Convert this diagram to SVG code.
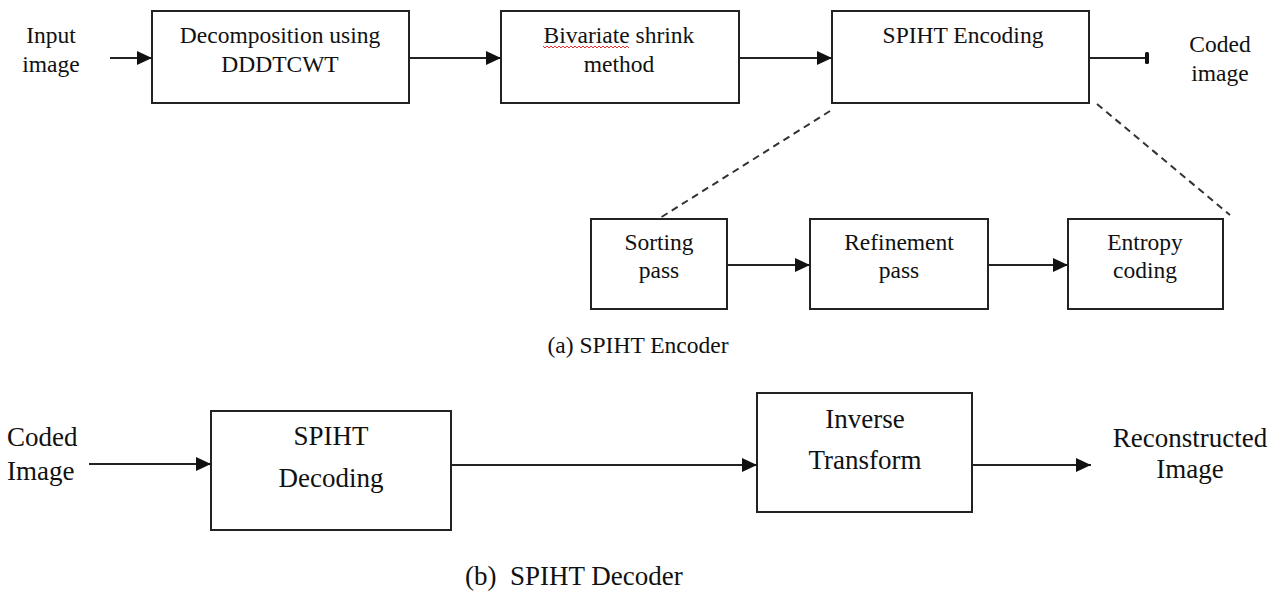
<svg xmlns="http://www.w3.org/2000/svg" width="1271" height="591" viewBox="0 0 1271 591">
  <style>
    .box { fill: #ffffff; stroke: #222222; stroke-width: 2; }
    .t { font-family: "Liberation Serif", "Times New Roman", serif; fill: #111111; text-anchor: middle; }
    .s { font-size: 23.5px; }
    .l { font-size: 27px; }
    .wire { fill: none; stroke: #222222; stroke-width: 2; }
    .dash { fill: none; stroke: #333333; stroke-width: 2; stroke-dasharray: 7 5; }
    .spell { fill: none; stroke: #e03030; stroke-width: 1; }
  </style>
  <defs>
    <marker id="head" markerWidth="15" markerHeight="14" refX="15" refY="7" orient="auto" markerUnits="userSpaceOnUse">
      <path d="M0,0 L15,7 L0,14 Z" fill="#111111"/>
    </marker>
  </defs>
  <rect width="1271" height="591" fill="#ffffff"/>

  <!-- encoder input / output labels -->
  <g id="input-image">
    <text class="t s" x="51" y="43">Input</text>
    <text class="t s" x="51" y="72">image</text>
  </g>
  <g id="coded-image-out">
    <text class="t s" x="1220" y="52">Coded</text>
    <text class="t s" x="1220" y="81">image</text>
  </g>

  <!-- encoder main stages -->
  <g id="decomposition">
    <rect class="box" x="152" y="11" width="257" height="92"/>
    <text class="t s" x="280" y="43">Decomposition using</text>
    <text class="t s" x="280" y="72">DDDTCWT</text>
  </g>
  <g id="bivariate">
    <rect class="box" x="501" y="11" width="238" height="92"/>
    <text class="t s" x="619" y="43">Bivariate shrink</text>
    <text class="t s" x="619" y="72">method</text>
    <path class="spell" d="M543,46 l2,2 l2,-2 l2,2 l2,-2 l2,2 l2,-2 l2,2 l2,-2 l2,2 l2,-2 l2,2 l2,-2 l2,2 l2,-2 l2,2 l2,-2 l2,2 l2,-2 l2,2 l2,-2 l2,2 l2,-2 l2,2 l2,-2 l2,2 l2,-2 l2,2 l2,-2 l2,2 l2,-2 l2,2 l2,-2 l2,2 l2,-2 l2,2 l2,-2 l2,2 l2,-2 l2,2 l2,-2 l2,2 l2,-2 l2,2"/>
  </g>
  <g id="spiht-encoding">
    <rect class="box" x="832" y="11" width="257" height="92"/>
    <text class="t s" x="963" y="43">SPIHT Encoding</text>
  </g>

  <!-- SPIHT encoding sub-stages -->
  <g id="sorting-pass">
    <rect class="box" x="591" y="219" width="136" height="90"/>
    <text class="t s" x="659" y="250">Sorting</text>
    <text class="t s" x="659" y="278">pass</text>
  </g>
  <g id="refinement-pass">
    <rect class="box" x="810" y="219" width="178" height="90"/>
    <text class="t s" x="899" y="250">Refinement</text>
    <text class="t s" x="899" y="278">pass</text>
  </g>
  <g id="entropy-coding">
    <rect class="box" x="1068" y="219" width="155" height="90"/>
    <text class="t s" x="1145" y="250">Entropy</text>
    <text class="t s" x="1145" y="278">coding</text>
  </g>

  <text class="t s" x="638" y="353">(a) SPIHT Encoder</text>

  <!-- decoder -->
  <g id="coded-image-in">
    <text class="t l" x="7" y="446" style="text-anchor:start">Coded</text>
    <text class="t l" x="7" y="480" style="text-anchor:start">Image</text>
  </g>
  <g id="spiht-decoding">
    <rect class="box" x="211" y="411" width="240" height="119"/>
    <text class="t l" x="331" y="445">SPIHT</text>
    <text class="t l" x="331" y="487">Decoding</text>
  </g>
  <g id="inverse-transform">
    <rect class="box" x="757" y="393" width="215" height="119"/>
    <text class="t l" x="865" y="428">Inverse</text>
    <text class="t l" x="865" y="469">Transform</text>
  </g>
  <g id="reconstructed-image">
    <text class="t l" x="1190" y="447">Reconstructed</text>
    <text class="t l" x="1190" y="478">Image</text>
  </g>

  <text class="t l" x="465" y="585" style="text-anchor:start">(b)&#160; SPIHT Decoder</text>

  <!-- connectors -->
  <g id="connectors">
    <line class="wire" x1="110" y1="58" x2="152" y2="58" marker-end="url(#head)"/>
    <line class="wire" x1="409" y1="58" x2="501" y2="58" marker-end="url(#head)"/>
    <line class="wire" x1="739" y1="58" x2="832" y2="58" marker-end="url(#head)"/>
    <line class="wire" x1="1089" y1="58" x2="1146" y2="58"/>
    <rect x="1145" y="52" width="4" height="12" rx="1.5" fill="#111111"/>

    <line class="dash" x1="830" y1="111" x2="660" y2="218"/>
    <line class="dash" x1="1097" y1="104" x2="1230" y2="215"/>

    <line class="wire" x1="727" y1="265" x2="810" y2="265" marker-end="url(#head)"/>
    <line class="wire" x1="988" y1="265" x2="1068" y2="265" marker-end="url(#head)"/>

    <line class="wire" x1="89" y1="464" x2="211" y2="464" marker-end="url(#head)"/>
    <line class="wire" x1="451" y1="465" x2="757" y2="465" marker-end="url(#head)"/>
    <line class="wire" x1="973" y1="465" x2="1091" y2="465" marker-end="url(#head)"/>
  </g>
</svg>
